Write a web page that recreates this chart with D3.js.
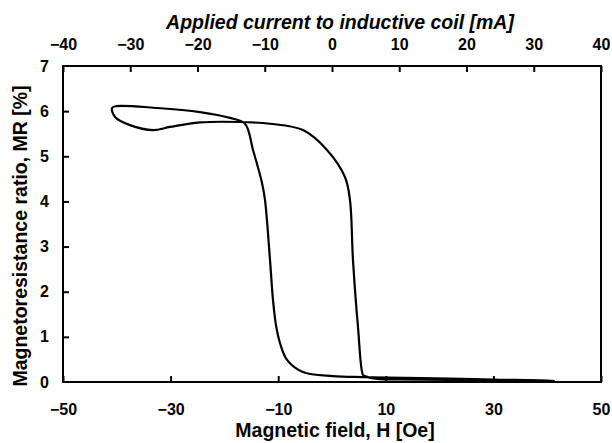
<!DOCTYPE html>
<html><head><meta charset="utf-8">
<script src="https://cdn.jsdelivr.net/npm/d3@7/dist/d3.min.js"></script>
<style>
body{margin:0;background:#fff;}
svg{display:block;}
text{font-family:"Liberation Sans",Arial,sans-serif;font-weight:bold;fill:#000;}
</style></head>
<body><svg id="chart" width="612" height="443"></svg>
<script>
// Hysteresis loop: magnetic field H [Oe] vs MR [%]
const fieldH = [41.4, 27.5, 12.6, 8.4, 6.1, 5.76, 4.83, 3.9, 3.34, 2.41, -0.93, -5.39, -11.52, -17.1, -24.54, -30.11, -33.27, -37.55, -40.33, -40.89, -40.15, -32.53, -24.54, -18.96, -16.17, -14.68, -13.01, -12.45, -11.52, -10.97, -10.41, -9.66, -8.36, -5.39, 0.19, 5.76, 10.22, 21.93, 29.92, 39.96, 41.4];
const mrValues = [0.02, 0.04, 0.055, 0.066, 0.13, 0.155, 1.22, 2.7, 4.03, 4.54, 5.14, 5.58, 5.72, 5.76, 5.75, 5.65, 5.58, 5.69, 5.87, 6.07, 6.11, 6.07, 5.98, 5.85, 5.72, 5.14, 4.41, 4.03, 2.7, 1.82, 1.26, 0.86, 0.49, 0.22, 0.13, 0.11, 0.1, 0.078, 0.055, 0.033, 0.02];
const bottomTicks = [-50, -30, -10, 10, 30, 50];
const topTicks = [-40, -30, -20, -10, 0, 10, 20, 30, 40];
const leftTicks = [0, 1, 2, 3, 4, 5, 6, 7];
const xTitle = "Magnetic field, H [Oe]";
const topTitle = "Applied current to inductive coil [mA]";
const yTitle = "Magnetoresistance ratio, MR [%]";

const L = 63, R = 601, T = 66, B = 382;
const svg = d3.select("#chart");
const x = d3.scaleLinear().domain([-50, 50]).range([L, R]);
const xTop = d3.scaleLinear().domain([-40, 40]).range([L, R]);
const y = d3.scaleLinear().domain([0, 7]).range([B, T]);
const fmt = d3.format("d");

const bAxis = d3.axisBottom(x).tickValues(bottomTicks).tickFormat(fmt).tickSizeInner(-6).tickSizeOuter(0).tickPadding(22);
const tAxis = d3.axisTop(xTop).tickValues(topTicks).tickFormat(fmt).tickSizeInner(-6).tickSizeOuter(0).tickPadding(16);
const lAxis = d3.axisLeft(y).tickValues(leftTicks).tickFormat(fmt).tickSizeInner(-6).tickSizeOuter(0).tickPadding(14);

function style(g){
  g.select(".domain").remove();
  g.selectAll(".tick line").attr("stroke","#000").attr("stroke-width",2);
  g.selectAll(".tick text").style("font-size","16px").style("font-family","'Liberation Sans',Arial,sans-serif").style("font-weight","bold").attr("fill","#000");
}
svg.append("g").attr("transform",`translate(0,${B})`).call(bAxis).call(style);
svg.append("g").attr("transform",`translate(0,${T})`).call(tAxis).call(style);
svg.append("g").attr("transform",`translate(${L},0)`).call(lAxis).call(style)
  .selectAll(".tick line").filter(d => d === 0 || d === 7).remove();

// frame
svg.append("rect").attr("x",L).attr("y",T).attr("width",R-L).attr("height",B-T)
  .attr("fill","none").attr("stroke","#000").attr("stroke-width",2);

// curve
const pts = fieldH.map((h,i)=>[h, mrValues[i]]);
svg.append("path").datum(pts)
  .attr("d", d3.line().x(d=>x(d[0])).y(d=>y(d[1])).curve(d3.curveCatmullRom.alpha(0.5)))
  .attr("fill","none").attr("stroke","#000").attr("stroke-width",2.2).attr("stroke-linejoin","round");

// titles
svg.append("text").attr("x",340).attr("y",29).attr("text-anchor","middle")
  .style("font-size","19.5px").style("font-style","italic").text(topTitle);
svg.append("text").attr("x",335).attr("y",437).attr("text-anchor","middle")
  .style("font-size","19.5px").text(xTitle);
svg.append("text").attr("transform","translate(27,236) rotate(-90)").attr("text-anchor","middle")
  .style("font-size","19.5px").text(yTitle);
</script></body></html>
